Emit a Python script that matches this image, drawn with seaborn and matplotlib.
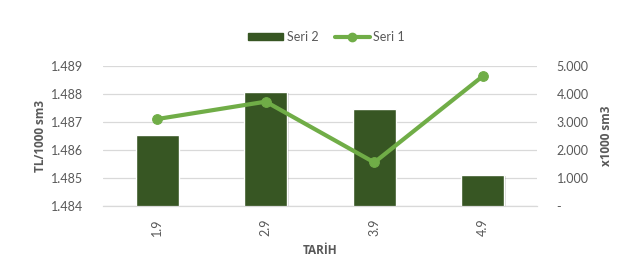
import matplotlib
matplotlib.use("Agg")
import matplotlib.pyplot as plt
import matplotlib.ticker as mticker
import matplotlib.patheffects as pe
from matplotlib.lines import Line2D
from matplotlib.patches import Patch
import seaborn as sns
import pandas as pd

dates = ["1.9", "2.9", "3.9", "4.9"]
seri2 = [1.48653, 1.48807, 1.48747, 1.48511]   # bars, left axis (TL/1000 sm3)
seri1 = [3100, 3720, 1550, 4630]               # line, right axis (x1000 sm3)

df = pd.DataFrame({"TARİH": dates, "Seri 2": seri2, "Seri 1": seri1})

sns.set_theme(style="white")
plt.rcParams["font.family"] = ["Lato", "DejaVu Sans"]

TXT = "#595959"
BAR = "#375623"
LINE = "#70AD47"
GRID = "#D9D9D9"
FS = 9
BOLD = dict(color=TXT, fontsize=8.5, fontweight="bold", family=["Open Sans", "DejaVu Sans"])

fig = plt.figure(figsize=(6.22, 2.60), dpi=100)
ax = fig.add_axes([0.1656, 0.208, 0.8634 - 0.1656, 0.747 - 0.208])
ax2 = ax.twinx()

sns.barplot(data=df, x="TARİH", y="Seri 2", color=BAR, width=0.4, ax=ax,
            saturation=1, zorder=2)
for p in ax.patches:
    p.set_path_effects([pe.SimplePatchShadow(offset=(1, -1), shadow_rgbFace="#000000", alpha=0.15), pe.Normal()])

sns.lineplot(data=df, x="TARİH", y="Seri 1", color=LINE, marker="o", markersize=7,
             markeredgecolor=LINE, linewidth=3, ax=ax2, zorder=3)

ax.set_ylim(1.484, 1.489)
ax.set_yticks([1.484, 1.485, 1.486, 1.487, 1.488, 1.489])
ax.yaxis.set_major_formatter(mticker.FuncFormatter(lambda v, p: f"{v:.3f}"))
ax2.set_ylim(0, 5000)
ax2.set_yticks([0, 1000, 2000, 3000, 4000, 5000])
ax2.yaxis.set_major_formatter(mticker.FuncFormatter(
    lambda v, p: "-" if abs(v) < 1e-9 else f"{int(round(v)):,}".replace(",", ".")))
ax.set_xlim(-0.5, 3.5)

ax.grid(axis="y", color=GRID, linewidth=0.9, zorder=0)
ax.set_axisbelow(True)
for a in (ax, ax2):
    for s in ["top", "left", "right"]:
        a.spines[s].set_visible(False)
    a.spines["bottom"].set_color(GRID)
    a.spines["bottom"].set_linewidth(0.9)
ax2.spines["bottom"].set_visible(False)

ax.tick_params(axis="y", colors=TXT, labelsize=FS, length=0, pad=14)
ax2.tick_params(axis="y", colors=TXT, labelsize=FS, length=0, pad=14)
ax.set_xticks(range(len(dates)))
ax.set_xticklabels(dates, rotation=90)
ax.tick_params(axis="x", colors=TXT, labelsize=FS, length=0, pad=9)
# category boundary tick marks
ax.set_xticks([-0.5, 0.5, 1.5, 2.5, 3.5], minor=True)
ax.tick_params(axis="x", which="minor", length=5, color=GRID, width=0.9)

ax.set_xlabel("TARİH", labelpad=6, **BOLD)
ax.set_ylabel("TL/1000 sm3", labelpad=3, **BOLD)
ax2.set_ylabel("x1000 sm3", labelpad=8, **BOLD)

handles = [Patch(facecolor=BAR, edgecolor=BAR),
           Line2D([0], [0], color=LINE, linewidth=3, marker="o", markersize=6)]
fig.legend(handles, ["Seri 2", "Seri 1"], loc="center", bbox_to_anchor=(0.525, 0.858),
           ncol=2, frameon=False, fontsize=FS, labelcolor=TXT,
           handlelength=2.8, handleheight=0.6, columnspacing=1.3, handletextpad=0.3)

fig.savefig("out.png", dpi=100)
